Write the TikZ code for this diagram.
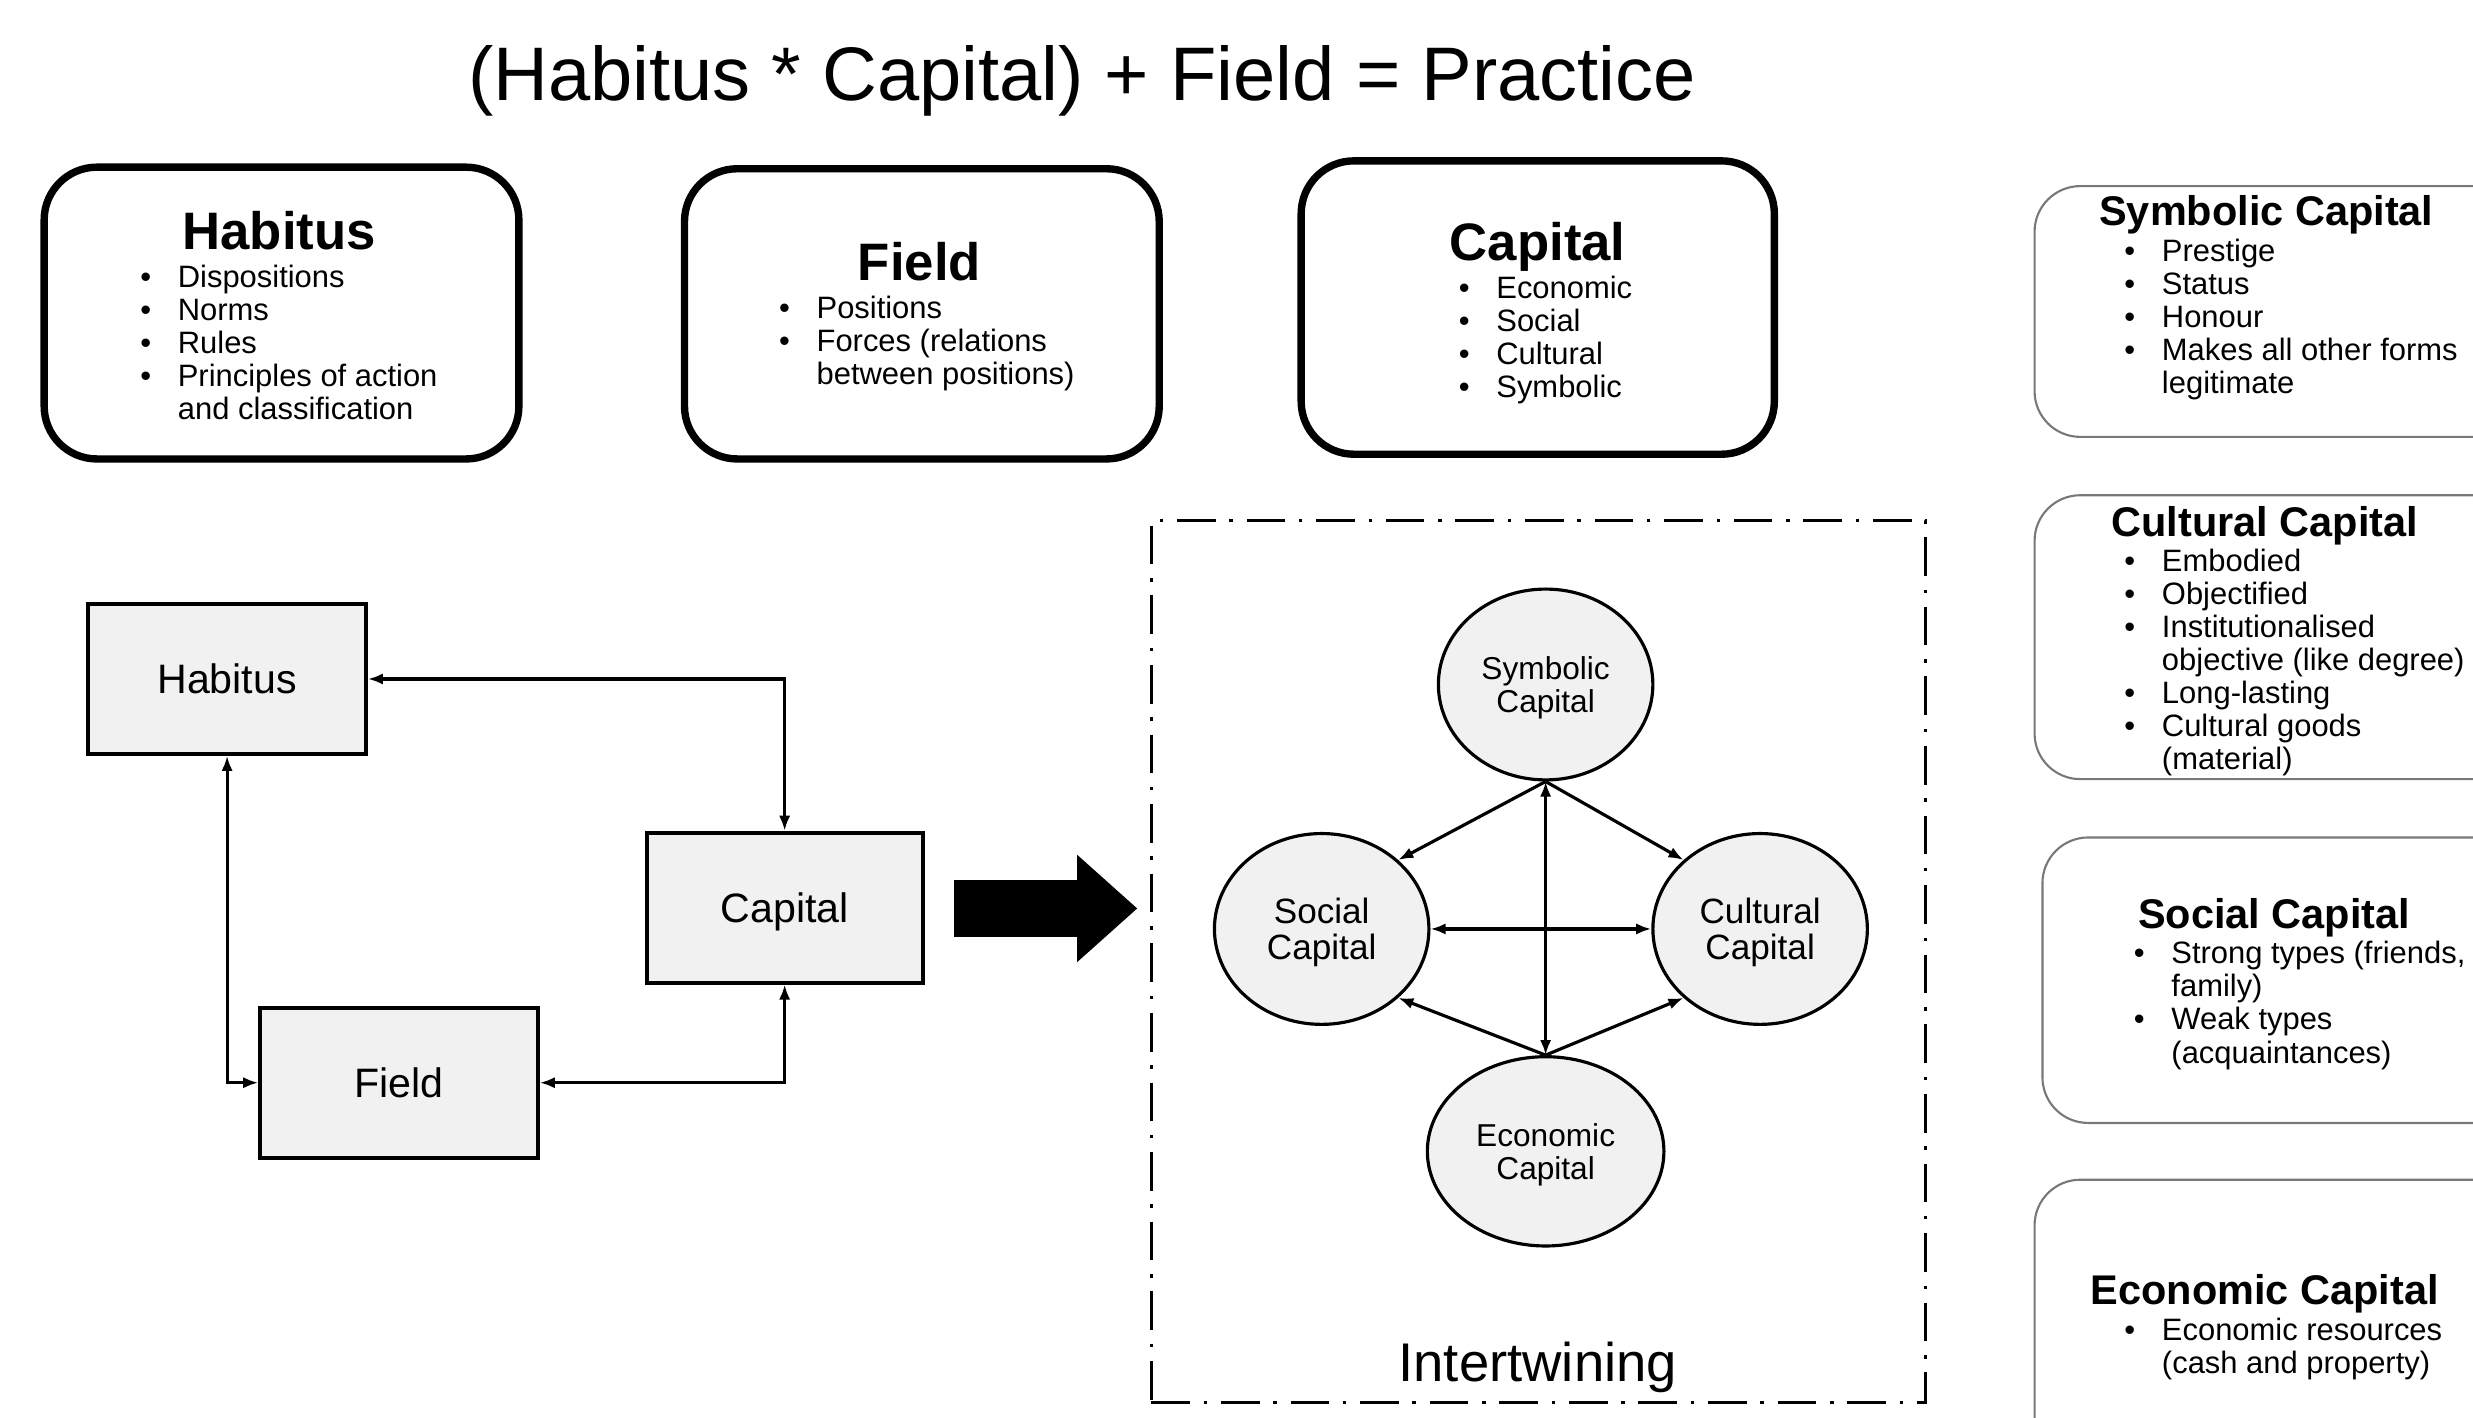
\documentclass[tikz,border=0pt]{standalone}
\usepackage{fontspec}
\setmainfont{Liberation Sans}
\usetikzlibrary{shapes.geometric,arrows.meta}

\newlength\pxl
\setlength\pxl{0.15772mm}

\definecolor{boxgray}{RGB}{241,241,241}
\definecolor{framegray}{RGB}{120,120,120}

\newcommand\itm[1]{\makebox[10.7pt][l]{\textbullet}#1}
\newcommand\cont[1]{\hspace*{10.7pt}#1}

% bullet lists are placed by the baseline of their last line
\tikzset{
  bigbox/.style={draw=black, line width=2.1pt, rounded corners=15pt, inner sep=0pt},
  sidebox/.style={draw=framegray, line width=0.6pt, rounded corners=13pt, inner sep=0pt},
  flowbox/.style={draw, line width=1.1pt, fill=boxgray, inner sep=0pt, text depth=0pt,
    minimum width=176*\pxl, minimum height=95*\pxl, font=\fontsize{11.7}{14}\selectfont},
  capnode/.style={ellipse, draw, line width=0.9pt, fill=boxgray, inner sep=0pt, align=center, text depth=0pt},
  tip/.tip={Latex[length=4.3pt,width=3.2pt]},
  link/.style={line width=0.9pt, tip-tip},
  onelink/.style={line width=0.9pt, -tip},
  boxtitle/.style={anchor=base, inner sep=0pt, font=\fontsize{15}{18}\selectfont\bfseries},
  sidetitle/.style={anchor=base, inner sep=0pt, font=\fontsize{11.8}{14}\selectfont\bfseries},
  bullets/.style={anchor=base west, inner sep=0pt, align=left, font=\fontsize{8.8}{9.4}\selectfont},
  frame/.style={draw, line width=0.9pt, dash pattern=on 11pt off 3.9pt on 1pt off 3.9pt, inner sep=0pt},
}

\begin{document}
\begin{tikzpicture}[x=\pxl, y=-\pxl]
\useasboundingbox (0,0) rectangle (1568,899);
\clip (0,0) rectangle (1568,899);

% formula
\node[anchor=base, inner sep=0pt, font=\fontsize{21.6}{25}\selectfont] (formula) at (686,64)
  {(Habitus * Capital) + Field = Practice};

% three concept boxes
\node[bigbox, minimum width=301*\pxl, minimum height=185*\pxl] (habbox) at (178.5,198.5) {};
\node[boxtitle] (habtitle) at (177,158) {Habitus};
\node[bullets] (hablist) at (88.5,266)
  {\itm{Dispositions}\\ \itm{Norms}\\ \itm{Rules}\\ \itm{Principles of action}\\ \cont{and classification}};

\node[bigbox, minimum width=301*\pxl, minimum height=184*\pxl] (fieldbox) at (584.5,199) {};
\node[boxtitle] (fieldtitle) at (583,178) {Field};
\node[bullets] (fieldlist) at (493.5,244)
  {\itm{Positions}\\ \itm{Forces (relations}\\ \cont{between positions)}};

\node[bigbox, minimum width=300*\pxl, minimum height=186*\pxl] (capbox) at (975,195) {};
\node[boxtitle] (captitle) at (975,165) {Capital};
\node[bullets] (caplist) at (924.5,252)
  {\itm{Economic}\\ \itm{Social}\\ \itm{Cultural}\\ \itm{Symbolic}};

% forms of capital, right column
\node[sidebox, minimum width=330*\pxl, minimum height=159*\pxl] (symbox) at (1455,197.5) {};
\node[sidetitle] (symtitle) at (1437,143) {Symbolic Capital};
\node[bullets] (symlist) at (1346.5,249.5)
  {\itm{Prestige}\\ \itm{Status}\\ \itm{Honour}\\ \itm{Makes all other forms}\\ \cont{legitimate}};

\node[sidebox, minimum width=330*\pxl, minimum height=180*\pxl] (culbox) at (1455,404) {};
\node[sidetitle] (cultitle) at (1436,340) {Cultural Capital};
\node[bullets] (cullist) at (1346.5,488)
  {\itm{Embodied}\\ \itm{Objectified}\\ \itm{Institutionalised}\\ \cont{objective (like degree)}\\
   \itm{Long-lasting}\\ \itm{Cultural goods}\\ \cont{(material)}};

\node[sidebox, minimum width=325*\pxl, minimum height=181*\pxl] (socbox) at (1457.5,621.5) {};
\node[sidetitle] (soctitle) at (1442,589) {Social Capital};
\node[bullets] (soclist) at (1352.5,674)
  {\itm{Strong types (friends,}\\ \cont{family)}\\ \itm{Weak types}\\ \cont{(acquaintances)}};

\node[sidebox, minimum width=330*\pxl, minimum height=220*\pxl] (ecobox) at (1455,858) {};
\node[sidetitle] (ecotitle) at (1436,827) {Economic Capital};
\node[bullets] (ecolist) at (1346.5,871)
  {\itm{Economic resources}\\ \cont{(cash and property)}};

% habitus - capital - field loop
\node[flowbox] (hab) at (144,430.5) {Habitus};
\node[flowbox, minimum width=175*\pxl] (cap) at (497.5,575.5) {Capital};
\node[flowbox] (fld) at (253,686.5) {Field};

\draw[link] (hab.east) -| (cap.north);
\draw[link] (hab.south) |- (fld.west);
\draw[link] (fld.east) -| (cap.south);

% block arrow into the intertwining frame
\fill (605,558) -- (683,558) -- (683,542) -- (721,576) -- (683,610) -- (683,594) -- (605,594) -- cycle;

% intertwining of the forms of capital
\node[frame, minimum width=491*\pxl, minimum height=559*\pxl] (frm) at (975.5,609.5) {};
\node[anchor=base, inner sep=0pt, font=\fontsize{15.5}{18}\selectfont] (frmlabel) at (975,876) {Intertwining};

\node[capnode, minimum width=136*\pxl, minimum height=121*\pxl, font=\fontsize{9}{9.4}\selectfont]
  (sym) at (980,434) {Symbolic\\Capital};
\node[capnode, minimum width=136*\pxl, minimum height=121*\pxl, font=\fontsize{10}{10.3}\selectfont]
  (soc) at (838,589) {Social\\Capital};
\node[capnode, minimum width=136*\pxl, minimum height=121*\pxl, font=\fontsize{10}{10.3}\selectfont]
  (cul) at (1116,589) {Cultural\\Capital};
\node[capnode, minimum width=150*\pxl, minimum height=120*\pxl, font=\fontsize{9}{9.4}\selectfont]
  (eco) at (980,730) {Economic\\Capital};

\draw[link] (sym.south) -- (eco.north);
\draw[link] (soc.east) -- (cul.west);
\draw[onelink] (sym.south) -- (soc.42);
\draw[onelink] (sym.south) -- (cul.138);
\draw[onelink] (eco.north) -- (soc.-42);
\draw[onelink] (eco.north) -- (cul.-138);
\end{tikzpicture}
\end{document}
